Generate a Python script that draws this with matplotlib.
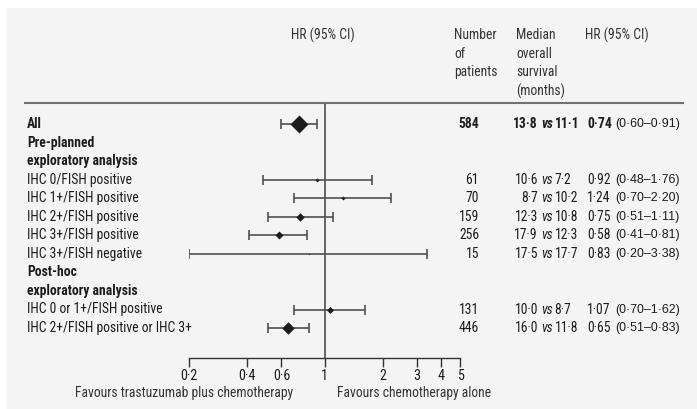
import matplotlib
matplotlib.use("Agg")
import matplotlib.pyplot as plt
from matplotlib import font_manager as fm
from matplotlib.transforms import blended_transform_factory
from matplotlib.patches import Rectangle
from matplotlib.lines import Line2D

# ---------------- data ----------------
labels = ["All", "Pre-planned", "exploratory analysis",
          "IHC 0/FISH positive", "IHC 1+/FISH positive", "IHC 2+/FISH positive",
          "IHC 3+/FISH positive", "IHC 3+/FISH negative",
          "Post-hoc", "exploratory analysis",
          "IHC 0 or 1+/FISH positive", "IHC 2+/FISH positive or IHC 3+"]
is_heading = [False, True, True, False, False, False, False, False, True, True, False, False]
hr = [0.74, None, None, 0.92, 1.24, 0.75, 0.58, 0.83, None, None, 1.07, 0.65]
ci_low = [0.60, None, None, 0.48, 0.70, 0.51, 0.41, 0.20, None, None, 0.70, 0.51]
ci_high = [0.91, None, None, 1.76, 2.20, 1.11, 0.81, 3.38, None, None, 1.62, 0.83]
n_patients = ["584", "", "", "61", "70", "159", "256", "15", "", "", "131", "446"]
os_trast = ["13·8", "", "", "10·6", "8·7", "12·3", "17·9", "17·5", "", "", "10·0", "16·0"]
os_chemo = ["11·1", "", "", "7·2", "10·2", "10·8", "12·3", "17·7", "", "", "8·7", "11·8"]
hr_text = ["0·74", "", "", "0·92", "1·24", "0·75", "0·58", "0·83", "", "", "1·07", "0·65"]
ci_text = ["(0·60–0·91)", "", "", "(0·48–1·76)", "(0·70–2·20)", "(0·51–1·11)",
           "(0·41–0·81)", "(0·20–3·38)", "", "", "(0·70–1·62)", "(0·51–0·83)"]
tick_values = [0.2, 0.4, 0.6, 1, 2, 3, 4, 5]
tick_labels = ["0·2", "0·4", "0·6", "1", "2", "3", "4", "5"]

# ---------------- style ----------------
marker_px = [18, 0, 0, 4, 4, 8.5, 8, 1.5, 0, 0, 7, 12.5]
W, H = 697, 409
BG = "#f4f4f4"
TXT = "#1e1b1c"
LINE = "#505050"

names = {f.name for f in fm.fontManager.ttflist}
FONT = None
for cand in ["Liberation Sans Narrow", "Roboto Condensed", "Open Sans Condensed",
             "DejaVu Sans Condensed"]:
    if cand in names:
        FONT = cand
        break
if FONT is None:
    FONT = "Liberation Sans" if "Liberation Sans" in names else "DejaVu Sans"
    FS = 8.4
else:
    FS = 9.8
CI_FONT = "Liberation Sans" if "Liberation Sans" in names else "DejaVu Sans"
CI_FS = 8.9

plt.rcParams["font.family"] = [FONT, "DejaVu Sans"]

fig = plt.figure(figsize=(W / 100, H / 100), dpi=100, facecolor="white")

def fx(px):
    return px / W

def fy(py):
    return 1 - py / H

# grey panel
fig.patches.append(Rectangle((fx(7), 0), 1 - fx(7), fy(8), transform=fig.transFigure,
                             facecolor=BG, edgecolor="none", zorder=-10))

# rows mapping: row i centre at y_px = Y0 + DY*i
Y0, DY = 124.0, 18.55
ax_top_px, ax_bot_px = 103.0, 358.0
ax = fig.add_axes([fx(189), fy(ax_bot_px), fx(460) - fx(189), (ax_bot_px - ax_top_px) / H])
ax.set_zorder(5)
ax.set_facecolor("none")
ax.set_xscale("log")
ax.set_xlim(0.2, 5)
ax.set_ylim((ax_bot_px - Y0) / DY, (ax_top_px - Y0) / DY)
for s in ["top", "right", "left"]:
    ax.spines[s].set_visible(False)
ax.spines["bottom"].set_color("#333333")
ax.spines["bottom"].set_linewidth(1.0)
ax.set_yticks([])
ax.set_xticks(tick_values)
ax.set_xticklabels(tick_labels)
ax.minorticks_off()
ax.tick_params(axis="x", direction="out", length=6.5, width=1.0, color="#333333",
               pad=1.5, labelsize=FS + 0.4, labelcolor=TXT)

ax.axvline(1, color="#666666", lw=1.4, zorder=1)

diamond = [(-1, 0), (0, 1), (1, 0), (0, -1), (-1, 0)]
for i in range(len(labels)):
    if hr[i] is None:
        continue
    ax.errorbar([hr[i]], [i], xerr=[[hr[i] - ci_low[i]], [ci_high[i] - hr[i]]], fmt="none",
                ecolor=LINE, elinewidth=1.2, capsize=3.6, capthick=1.2, zorder=2)
    if marker_px[i] > 0:
        ax.plot([hr[i]], [i], linestyle="none", marker=diamond,
                markersize=marker_px[i] * 0.72, color=TXT, markeredgewidth=0, zorder=3)

# top rule
fig.add_artist(Line2D([fx(25), fx(683)], [fy(103), fy(103)], transform=fig.transFigure,
                      color="#707070", lw=1.5))

tr = blended_transform_factory(fig.transFigure, ax.transData)

for i, lab in enumerate(labels):
    bold = is_heading[i] or i == 0
    w = "bold" if bold else "normal"
    ax.text(fx(27), i, lab, transform=tr, ha="left", va="center", fontsize=FS,
            fontweight=w, color=TXT)
    if n_patients[i]:
        ax.text(fx(479), i, n_patients[i], transform=tr, ha="right", va="center",
                fontsize=FS, fontweight=w, color=TXT)
        ax.text(fx(538), i, os_trast[i], transform=tr, ha="right", va="center",
                fontsize=FS, fontweight=w, color=TXT)
        ax.text(fx(541), i, "vs", transform=tr, ha="left", va="center",
                fontsize=FS, fontweight=w, style="italic", color=TXT)
        ax.text(fx(554.5), i, os_chemo[i], transform=tr, ha="left", va="center",
                fontsize=FS, fontweight=w, color=TXT)
        ax.text(fx(587), i, hr_text[i], transform=tr, ha="left", va="center",
                fontsize=FS, fontweight=w, color=TXT)
        ax.text(fx(615), i, ci_text[i], transform=tr, ha="left", va="center",
                fontsize=CI_FS, family=CI_FONT, color=TXT)

# headers
HC = "#333333"
fig.text(fx(323), fy(35), "HR (95% CI)", ha="center", va="center", fontsize=FS, color=HC)
for k, t in enumerate(["Number", "of", "patients"]):
    fig.text(fx(454), fy(35 + 18.7 * k), t, ha="left", va="center", fontsize=FS, color=HC)
for k, t in enumerate(["Median", "overall", "survival", "(months)"]):
    fig.text(fx(516), fy(35 + 18.7 * k), t, ha="left", va="center", fontsize=FS, color=HC)
fig.text(fx(585), fy(35), "HR (95% CI)", ha="left", va="center", fontsize=FS, color=HC)

# favours
fig.text(fx(184), fy(393), "Favours trastuzumab plus chemotherapy", ha="center", va="center",
         fontsize=FS, color=HC)
fig.text(fx(337), fy(393), "Favours chemotherapy alone", ha="left", va="center",
         fontsize=FS, color=HC)

fig.savefig("out.png", dpi=100, facecolor="white")
